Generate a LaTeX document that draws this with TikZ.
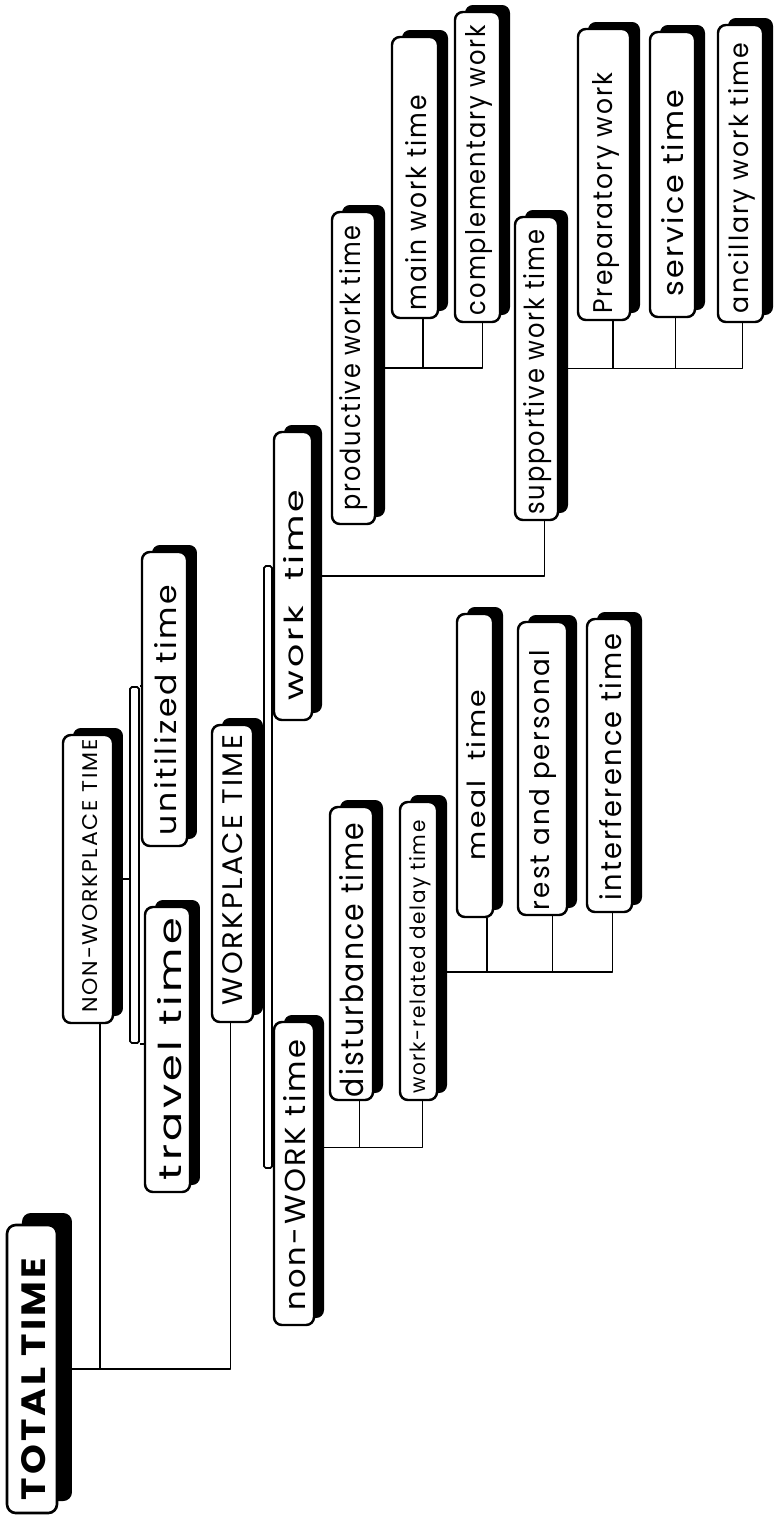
\documentclass[tikz,border=0pt]{standalone}
\usepackage{fontspec}
\setmainfont{Poppins}
\newfontfamily\hand[LetterSpace=8]{Poppins}
\usetikzlibrary{shadows,calc}
\newlength\pxu
\setlength\pxu{0.02cm}
\tikzset{
  face/.style={draw=black, line width=1.4pt, fill=white, rounded corners=4.5pt, inner sep=0pt,
    general shadow={fill=black, shadow xshift=0.2cm, shadow yshift=0.14cm}},
  bigface/.style={draw=black, line width=1.5pt, fill=white, rounded corners=5pt, inner sep=0pt,
    general shadow={fill=black, shadow xshift=0.3cm, shadow yshift=0.24cm}},
  bracket/.style={draw=black, line width=1pt, fill=white, rounded corners=1pt, inner sep=0pt},
  conn/.style={line width=1.1pt, line join=round},
  txt/.style={rotate=90, inner sep=0pt, font=\hand}
}
% name, x1, y1, x2, y2 of the white face (pixels)
\newcommand\mkbox[6][face]{%
  \node[#1, minimum width={(#5-#3)*0.02cm}, minimum height={(#6-#4)*0.02cm}] (#2) at ({(#3+#5)/2},{(#4+#6)/2}) {};}
% name, x, y, length, height, text
\newcommand\mktxt[6]{\node[txt] (#1) at (#2,#3) {\resizebox{#4\pxu}{#5\pxu}{#6}};}
\begin{document}
\begin{tikzpicture}[x=0.02cm, y=-0.02cm]
\useasboundingbox (0,0) rectangle (778,1515);
% boxes
\mkbox[bigface]{total}{7}{1225}{57}{1513}
\mkbox{nwp}{63}{735}{113}{1023}
\mkbox{unit}{142}{552}{187}{846}
\mkbox{travel}{145}{907}{190}{1192}
\mkbox{wp}{212}{725}{253}{1022}
\mkbox{work}{274}{432}{312}{720}
\mkbox{nonwork}{274}{1022}{314}{1325}
\mkbox{dist}{330}{807}{373}{1100}
\mkbox{delay}{400}{802}{437}{1100}
\mkbox{meal}{457}{614}{493}{917}
\mkbox{rest}{518}{622}{567}{915}
\mkbox{interf}{587}{619}{632}{912}
\mkbox{prod}{332}{212}{375}{524}
\mkbox{supp}{515}{217}{558}{520}
\mkbox{main}{392}{37}{438}{318}
\mkbox{comp}{455}{12}{500}{322}
\mkbox{prep}{578}{29}{630}{320}
\mkbox{serv}{650}{32}{695}{317}
\mkbox{anc}{718}{25}{763}{322}
% brackets
\node[bracket, minimum width={9*0.02cm}, minimum height={356*0.02cm}] (br1) at (134.5,865) {};
\node[bracket, minimum width={8*0.02cm}, minimum height={602*0.02cm}] (br2) at (268,867) {};
% texts
\mktxt{t1}{34}{1379}{242}{24}{\bfseries TOTAL TIME}
\mktxt{t2}{90}{876}{273}{15}{NON-WORKPLACE TIME}
\mktxt{t3}{166}{710}{250}{22}{unitilized time}
\mktxt{t4}{170}{1049}{262}{24}{travel time}
\mktxt{t5}{233}{870}{270}{20}{WORKPLACE TIME}
\mktxt{t6}{294}{595}{210}{20}{work\ \ time}
\mktxt{t7}{295}{1175}{270}{22}{non-WORK time}
\mktxt{t8}{352}{960}{274}{24}{disturbance time}
\mktxt{t9}{420}{957}{273}{16}{work-related delay time}
\mktxt{t10}{476}{775}{170}{19}{meal\ \ time}
\mktxt{t11}{543}{780}{260}{20}{rest and personal}
\mktxt{t12}{611}{767}{267}{22}{interference time}
\mktxt{t13}{354}{368}{285}{21}{productive work time}
\mktxt{t14}{538}{372}{285}{21}{supportive work time}
\mktxt{t15}{416}{203}{215}{21}{main work time}
\mktxt{t16}{479}{170}{290}{20}{complementary work}
\mktxt{t17}{606}{193}{241}{20}{Preparatory work}
\mktxt{t18}{673}{193}{207}{22}{service time}
\mktxt{t19}{742}{178}{270}{20}{ancillary work time}
% connector helper points
\coordinate (cnwp) at ($(nwp.south)+(12,0)$);
\coordinate (cwp) at ($(wp.south)+(-2,0)$);
\coordinate (csupp) at ($(supp.south)+(8,0)$);
\coordinate (nj) at ($(nonwork.east)+(0,-26)$);
\coordinate (cdist) at ($(dist.south)+(8,0)$);
\coordinate (cdelay) at ($(delay.south)+(4,0)$);
\coordinate (dj) at ($(delay.east)+(0,21)$);
\coordinate (cmeal) at ($(meal.south)+(12,0)$);
\coordinate (crest) at ($(rest.south)+(10,0)$);
\coordinate (cinterf) at ($(interf.south)+(3,0)$);
\coordinate (cmain) at ($(main.south)+(8,0)$);
\coordinate (ccomp) at ($(comp.south)+(5,0)$);
\coordinate (cprep) at ($(prep.south)+(9,0)$);
\coordinate (cserv) at ($(serv.south)+(3,0)$);
\coordinate (canc) at ($(anc.south)+(2,0)$);
% connectors
\draw[conn] (total.east) -- (cwp |- total.east) -- (cwp);
\draw[conn] (cnwp |- total.east) -- (cnwp);
\draw[conn] (nwp.east) -- (br1.west |- nwp.east);
\draw[conn] (br1.north east) -- (unit.west |- br1.north east);
\draw[conn] (br1.south east) -- (travel.west |- br1.south east);
\draw[conn] (wp.east) -- (br2.west |- wp.east);
\draw[conn] (br2.north east) -- (work.west |- br2.north east);
\draw[conn] (br2.south east) -- (nonwork.west |- br2.south east);
\draw[conn] (work.east) -- (csupp |- work.east) -- (csupp);
\draw[conn] (nj) -- (cdelay |- nj) -- (cdelay);
\draw[conn] (cdist |- nj) -- (cdist);
\draw[conn] (dj) -- (cinterf |- dj) -- (cinterf);
\draw[conn] (cmeal |- dj) -- (cmeal);
\draw[conn] (crest |- dj) -- (crest);
\draw[conn] (prod.east) -- (ccomp |- prod.east) -- (ccomp);
\draw[conn] (cmain |- prod.east) -- (cmain);
\draw[conn] (supp.east) -- (canc |- supp.east) -- (canc);
\draw[conn] (cprep |- supp.east) -- (cprep);
\draw[conn] (cserv |- supp.east) -- (cserv);
\end{tikzpicture}
\end{document}
